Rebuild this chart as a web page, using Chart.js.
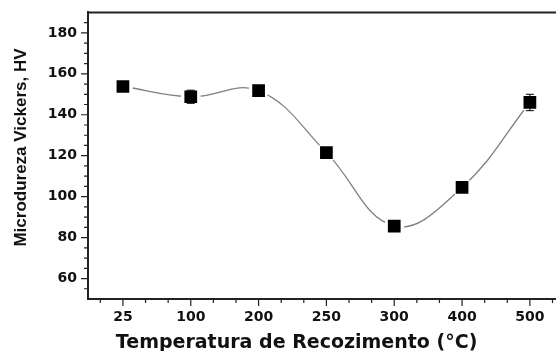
<!DOCTYPE html>
<html>
<head>
<meta charset="utf-8">
<script src="https://cdn.jsdelivr.net/npm/chart.js@4.4.0/dist/chart.umd.min.js"></script>
<style>
  html, body { margin: 0; padding: 0; background: #fff; }
  #wrap { width: 556px; height: 351px; }
</style>
</head>
<body>
<div id="wrap"><canvas id="chart"></canvas></div>
<script>
// data
const temperatures = ['25', '100', '200', '250', '300', '400', '500'];
const hardness = [153.8, 148.8, 151.8, 121.5, 85.6, 104.5, 146];
const hardnessErr = [1.5, 3.2, 1.5, 1, 1, 1, 4];
const yTicks = [60, 80, 100, 120, 140, 160, 180];
const xTitle = 'Temperatura de Recozimento (°C)';
const yTitle = 'Microdureza Vickers, HV';

const points = hardness.map((v, i) => ({ x: i, y: v }));

// top border, major/minor ticks and axis titles, placed from the library scales
const frame = {
    id: 'frame',
    afterDraw(chart) {
        const ctx = chart.ctx;
        const area = chart.chartArea;
        const xs = chart.scales.x;
        const ys = chart.scales.y;
        ctx.save();
        ctx.strokeStyle = '#222';
        ctx.lineWidth = 2;
        ctx.beginPath();
        ctx.moveTo(area.left - 1, area.top);
        ctx.lineTo(area.right, area.top);
        ctx.stroke();

        ctx.lineWidth = 1.2;
        ctx.beginPath();
        for (let v = 55; v <= 185; v += 5) {
            const y = ys.getPixelForValue(v);
            const len = v % 20 === 0 ? 7 : 4;
            ctx.moveTo(area.left - len, y);
            ctx.lineTo(area.left, y);
        }
        for (let k = -1; k <= 19; k++) {
            const x = xs.getPixelForValue(k / 3);
            if (x > area.right) continue;
            const len = k % 3 === 0 ? 7 : 4;
            ctx.moveTo(x, area.bottom);
            ctx.lineTo(x, area.bottom + len);
        }
        ctx.stroke();

        // axis titles
        ctx.fillStyle = '#111';
        ctx.textAlign = 'center';
        ctx.textBaseline = 'middle';
        ctx.font = 'bold 19px "DejaVu Sans", sans-serif';
        ctx.fillText(xTitle, xs.getPixelForValue(2.56), xs.bottom - 8);
        ctx.translate(ys.left + 21, ys.getPixelForValue(124));
        ctx.rotate(-Math.PI / 2);
        ctx.font = 'bold 17px "Liberation Sans", Arial, sans-serif';
        ctx.fillText(yTitle, 0, 0);
        ctx.restore();
    }
};

const errorBars = {
    id: 'errorBars',
    afterDatasetsDraw(chart) {
        const ctx = chart.ctx;
        const xs = chart.scales.x;
        const ys = chart.scales.y;
        ctx.save();
        ctx.strokeStyle = '#000';
        ctx.lineWidth = 1;
        ctx.beginPath();
        hardness.forEach((v, i) => {
            const x = xs.getPixelForValue(i);
            const yTop = ys.getPixelForValue(v + hardnessErr[i]);
            const yBot = ys.getPixelForValue(v - hardnessErr[i]);
            ctx.moveTo(x, yTop);
            ctx.lineTo(x, yBot);
            ctx.moveTo(x - 4, yTop);
            ctx.lineTo(x + 4, yTop);
            ctx.moveTo(x - 4, yBot);
            ctx.lineTo(x + 4, yBot);
        });
        ctx.stroke();
        ctx.restore();
    }
};

Chart.defaults.font.family = '"Liberation Sans", Arial, sans-serif';
Chart.defaults.color = '#111';

new Chart(document.getElementById('chart'), {
    type: 'scatter',
    data: {
        datasets: [
            {
                data: points,
                showLine: true,
                borderColor: '#808080',
                borderWidth: 1.3,
                tension: 0.4,
                pointRadius: 0,
                order: 3
            },
            {
                data: points,
                showLine: false,
                pointStyle: 'circle',
                pointRadius: 10,
                backgroundColor: '#fff',
                borderWidth: 0,
                order: 2
            },
            {
                data: points,
                showLine: false,
                pointStyle: 'rect',
                pointRadius: 9,
                backgroundColor: '#000',
                borderColor: '#000',
                borderWidth: 0,
                order: 1
            }
        ]
    },
    options: {
        responsive: true,
        maintainAspectRatio: false,
        animation: false,
        layout: { autoPadding: false, padding: { top: 10, right: 0, left: 0, bottom: 0 } },
        plugins: {
            legend: { display: false },
            tooltip: { enabled: false }
        },
        scales: {
            x: {
                type: 'linear',
                min: -0.515,
                max: 6.385,
                afterBuildTicks: s => { s.ticks = temperatures.map((t, i) => ({ value: i })); },
                afterFit: s => { s.height = 52; s.paddingLeft = 0; s.paddingRight = 0; },
                ticks: {
                    callback: v => temperatures[v],
                    autoSkip: false,
                    maxRotation: 0,
                    padding: 3,
                    color: '#111',
                    font: { family: '"DejaVu Sans", sans-serif', size: 14, weight: 'bold' }
                },
                grid: { drawOnChartArea: false, tickLength: 7, tickColor: 'rgba(0,0,0,0)' },
                border: { color: '#222', width: 2 }
            },
            y: {
                min: 50,
                max: 190,
                afterBuildTicks: s => { s.ticks = yTicks.map(v => ({ value: v })); },
                afterFit: s => { s.width = 88; },
                ticks: {
                    padding: 4,
                    color: '#111',
                    font: { family: '"DejaVu Sans", sans-serif', size: 14, weight: 'bold' }
                },
                grid: { drawOnChartArea: false, tickLength: 7, tickColor: 'rgba(0,0,0,0)' },
                border: { color: '#222', width: 2 }
            }
        }
    },
    plugins: [frame, errorBars]
});
</script>
</body>
</html>
